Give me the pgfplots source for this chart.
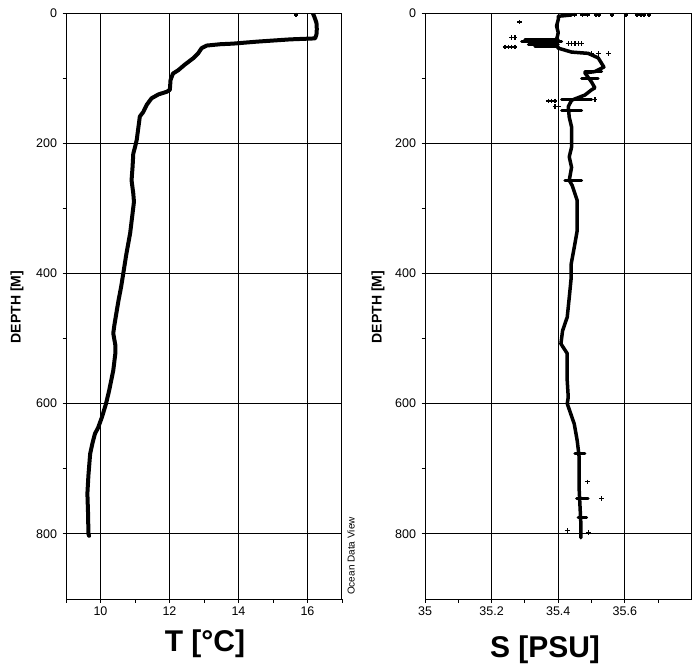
\documentclass[border=0pt]{standalone}
\usepackage{fontspec}
\setmainfont{Liberation Sans}
\usepackage{pgfplots}
\pgfplotsset{compat=1.18}
\pgfplotsset{
 odv/.style={
  scale only axis, anchor=south west, height=586pt,
  y dir=reverse, ymin=0, ymax=900,
  ytick={0,200,400,600,800}, minor ytick={100,300,500,700},
  grid=major, major grid style={black, line width=0.9pt},
  axis line style={line width=1pt},
  tick style={black, line width=0.9pt},
  tick align=outside, major tick length=3.5pt, minor tick length=3.5pt,
  xtick pos=left, ytick pos=left,
  tick label style={font=\fontsize{12.5}{12.5}\selectfont},
  /pgf/number format/assume math mode=true,
  yticklabel style={xshift=-2pt},
  xticklabel style={yshift=-1pt},
 },
 prof/.style={black, line width=4pt, line join=round, line cap=round, no markers},
 blob/.style={black, line width=3pt, line cap=round, no markers},
 strays/.style={only marks, mark=+, mark size=2.3pt, black, mark options={line width=1.3pt}},
}
\begin{document}
\begin{tikzpicture}[x=1pt,y=1pt]
\path (0pt,0pt) rectangle (693pt,669pt);
% ---------------- Temperature ----------------
\begin{axis}[odv, at={(66pt,70pt)}, width=276pt,
  xmin=9, xmax=17, xtick={10,12,14,16}, minor xtick={9,11,13,15,17}]
\addplot[prof] coordinates {
(16.16,1) (16.20,6) (16.26,15) (16.27,25) (16.26,33) (16.22,39)
(15.98,39.5) (15.5,40.5) (14.53,44) (13.85,47) (13.46,48) (13.08,50)
(12.93,54) (12.83,62) (12.70,69) (12.45,79) (12.25,88) (12.10,93)
(12.03,103) (12.01,118) (11.92,121) (11.68,125) (11.48,131) (11.34,141)
(11.24,152) (11.14,159) (11.10,175) (11.05,195) (11.00,206) (10.95,216)
(10.93,236) (10.90,257) (10.95,277) (10.97,290) (10.86,338) (10.75,370)
(10.66,400) (10.60,420) (10.52,442) (10.40,480) (10.37,492) (10.43,510)
(10.43,523) (10.37,549) (10.25,580) (10.16,600) (10.04,621) (9.93,637)
(9.84,646) (9.77,660) (9.70,677) (9.65,710) (9.62,738) (9.64,770)
(9.65,800) (9.67,803)
};
\addplot[strays] coordinates {(15.67,3)};
\end{axis}
% ---------------- Salinity ----------------
\begin{axis}[odv, at={(425pt,70pt)}, width=266.5pt,
  xmin=35, xmax=35.8, xtick={35,35.2,35.4,35.6},
  xticklabels={35,35.2,35.4,35.6}, minor xtick={35.1,35.3,35.5,35.7}]
\addplot[prof, line width=3.5pt] coordinates {
(35.44,3) (35.40,5) (35.40,10) (35.395,20) (35.40,30) (35.397,37)
(35.39,45) (35.40,54) (35.44,60) (35.49,62) (35.52,69) (35.537,83)
(35.51,90) (35.48,92) (35.50,106) (35.51,115) (35.50,118) (35.48,126)
(35.44,134) (35.43,144) (35.433,160) (35.44,175) (35.44,190) (35.44,206)
(35.433,221) (35.44,237) (35.433,257) (35.442,265) (35.457,288) (35.457,308)
(35.457,334) (35.448,360) (35.439,385) (35.439,406) (35.433,437) (35.427,467)
(35.413,488) (35.408,508) (35.427,523) (35.427,565) (35.43,590) (35.427,600)
(35.448,631) (35.457,657) (35.463,683) (35.463,734) (35.468,785) (35.468,806)
};
% dense clusters
\addplot[blob] coordinates {(35.30,40) (35.40,40)};
\addplot[blob] coordinates {(35.29,44) (35.41,44)};
\addplot[blob] coordinates {(35.31,48) (35.40,48)};
\addplot[blob] coordinates {(35.33,51) (35.40,51)};
\addplot[blob] coordinates {(35.48,90) (35.53,90)};
\addplot[blob] coordinates {(35.47,100) (35.52,100)};
\addplot[blob] coordinates {(35.41,133) (35.50,133)};
\addplot[blob] coordinates {(35.41,149) (35.47,149)};
\addplot[blob] coordinates {(35.42,257) (35.47,257)};
\addplot[blob] coordinates {(35.45,677) (35.48,677)};
\addplot[blob] coordinates {(35.455,745) (35.49,745)};
\addplot[blob] coordinates {(35.46,775) (35.485,775)};
\addplot[strays] coordinates {
(35.448,3) (35.472,3) (35.487,3) (35.513,3) (35.522,3) (35.561,3)
(35.603,3) (35.636,3) (35.648,3) (35.657,3) (35.672,3)
(35.284,14) (35.26,38) (35.27,38)
(35.24,52) (35.25,52) (35.26,52) (35.27,52)
(35.43,47) (35.44,47) (35.45,47) (35.46,47) (35.47,47)
(35.50,62) (35.52,62) (35.55,62)
(35.37,135) (35.38,135) (35.39,135) (35.51,133)
(35.39,144) (35.40,144)
(35.487,720) (35.53,746) (35.427,795) (35.49,798)
};
\end{axis}
% ---------------- Labels ----------------
\node[rotate=90, font=\bfseries\fontsize{14}{14}\selectfont] at (17pt,362pt) {DEPTH [M]};
\node[rotate=90, font=\bfseries\fontsize{14}{14}\selectfont] at (378pt,362pt) {DEPTH [M]};
\node[font=\bfseries\fontsize{30}{30}\selectfont] at (205pt,25pt) {T [°C]};
\node[font=\bfseries\fontsize{30}{30}\selectfont] at (545pt,19pt) {S [PSU]};
\node[rotate=90, font=\fontsize{10}{10}\selectfont] at (351pt,113pt) {Ocean Data View};
\end{tikzpicture}
\end{document}
